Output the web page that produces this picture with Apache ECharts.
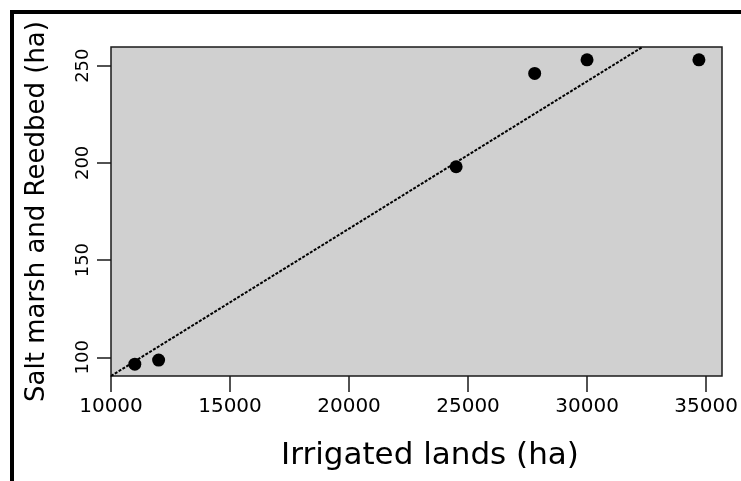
<!DOCTYPE html>
<html>
<head>
<meta charset="utf-8">
<script src="https://cdn.jsdelivr.net/npm/echarts@6/dist/echarts.min.js"></script>
<style>
  html, body { margin: 0; padding: 0; background: #fff; }
  #chart { width: 741px; height: 481px; }
</style>
</head>
<body>
<div id="chart"></div>
<script>
const irrigated = [11000, 12000, 24500, 27800, 30000, 34700];
const saltMarsh = [96.5, 98.6, 198, 246, 253, 253];

// fitted line end points
const trendX = [10000, 32330];
const trendY = [90.4, 259.6];

const xTicks = [10000, 15000, 20000, 25000, 30000, 35000];
const yTicks = [100, 150, 200, 250];

const chart = echarts.init(document.getElementById("chart"));

const font = "DejaVu Sans, Verdana, sans-serif";

chart.setOption({
  backgroundColor: "#fff",
  animation: false,
  graphic: [
    { type: "rect", shape: { x: 10, y: 10, width: 740, height: 4 }, style: { fill: "#000" } },
    { type: "rect", shape: { x: 10, y: 10, width: 4, height: 480 }, style: { fill: "#000" } },
  ],
  grid: {
    left: 111,
    top: 47,
    right: 19,
    bottom: 105,
    show: true,
    backgroundColor: "#d0d0d0",
    borderColor: "#1a1a1a",
    borderWidth: 1.5,
  },
  xAxis: {
    type: "value",
    min: 10000,
    max: 35670,
    name: "Irrigated lands (ha)",
    nameLocation: "middle",
    nameGap: 64,
    nameTextStyle: { fontFamily: font, fontSize: 31, color: "#000", padding: [0, 0, 0, 27] },
    splitLine: { show: false },
    axisLine: { show: false },
    axisTick: {
      show: true,
      length: 16,
      customValues: xTicks,
      lineStyle: { color: "#1a1a1a", width: 1.5 },
    },
    axisLabel: {
      customValues: xTicks,
      formatter: (v) => String(v),
      margin: 21,
      fontFamily: font,
      fontSize: 20,
      color: "#000",
    },
  },
  yAxis: {
    type: "value",
    min: 90.4,
    max: 259.6,
    name: "Salt marsh and Reedbed (ha)",
    nameLocation: "middle",
    nameRotate: 90,
    nameGap: 61,
    nameTextStyle: { fontFamily: font, fontSize: 26, color: "#000" },
    splitLine: { show: false },
    axisLine: { show: false },
    axisTick: {
      show: true,
      length: 14,
      customValues: yTicks,
      lineStyle: { color: "#1a1a1a", width: 1.5 },
    },
    axisLabel: {
      customValues: yTicks,
      rotate: 90,
      margin: 19,
      fontFamily: font,
      fontSize: 18,
      color: "#000",
    },
  },
  series: [
    {
      type: "line",
      data: trendX.map((x, i) => [x, trendY[i]]),
      symbol: "none",
      clip: true,
      lineStyle: { color: "#000", width: 2, type: [3, 1.5] },
      z: 2,
    },
    {
      type: "scatter",
      data: irrigated.map((x, i) => [x, saltMarsh[i]]),
      symbol: "circle",
      symbolSize: 13,
      itemStyle: { color: "#000", opacity: 1 },
      z: 3,
    },
  ],
});
</script>
</body>
</html>
